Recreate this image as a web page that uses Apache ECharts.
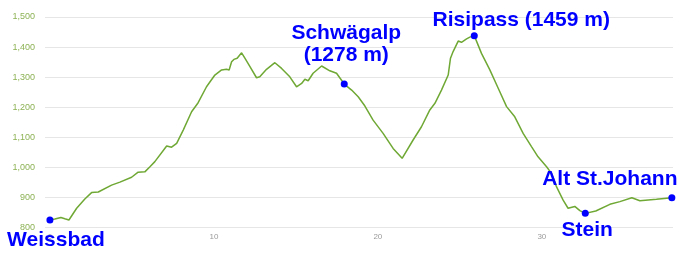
<!DOCTYPE html>
<html>
<head>
<meta charset="utf-8">
<script src="https://cdn.jsdelivr.net/npm/echarts@6/dist/echarts.min.js"></script>
<style>html,body{margin:0;padding:0;background:#fff}#c{width:683px;height:260px}</style>
</head>
<body>
<div id="c"></div>
<script>
// distance (km) and elevation (m) read from the profile
const distKm = [0,0.30,0.67,0.91,1.16,1.63,2.13,2.54,2.95,3.76,4.27,4.98,5.38,5.79,6.10,6.40,7.12,7.42,7.73,8.13,8.64,9.04,9.55,10.06,10.47,10.77,10.93,11.08,11.22,11.42,11.69,11.89,12.20,12.60,12.80,13.21,13.72,14.13,14.63,15.04,15.35,15.55,15.75,16.05,16.57,17.07,17.48,17.95,18.40,18.80,19.21,19.71,20.32,20.93,21.48,22.15,22.66,23.17,23.48,23.88,24.29,24.43,24.59,24.90,25.10,25.41,25.61,25.88,26.32,26.83,27.34,27.85,28.35,28.86,29.37,29.77,30.29,30.59,30.90,31.30,31.60,32.01,32.32,32.65,33.29,34.15,34.76,35.49,35.98,36.99,37.93];
const elevM = [825,828,833,829,825,864,895,916,918,941,951,967,984,985,1002,1019,1071,1067,1080,1124,1185,1215,1268,1307,1324,1326,1324,1351,1359,1363,1381,1363,1335,1298,1301,1326,1348,1329,1301,1268,1279,1293,1288,1313,1337,1321,1313,1277,1257,1235,1204,1157,1113,1063,1030,1091,1135,1191,1213,1257,1307,1363,1385,1420,1416,1427,1433,1438,1379,1324,1263,1202,1168,1113,1069,1035,1002,980,935,891,864,870,856,847,855,877,886,899,889,894,899];
// named places
const placeNames = ["Weissbad","Schwägalp\n(1278 m)","Risipass (1459 m)","Stein","Alt St.Johann"];
const placeKm = [0,17.95,25.88,32.65,37.93];
const placeElev = [825,1277,1438,847,899];
const xTickLabels = [0,10,20,30];
const yTicks = [800,900,1000,1100,1200,1300,1400,1500];

const labelOffsets = [[6,20],[2,-40],[47,-15],[2,17],[-62,-19]];

const chart = echarts.init(document.getElementById('c'), null, {renderer:'canvas'});
const lineData = distKm.map((d,i)=>[d, elevM[i]]);
const placeData = placeNames.map((n,i)=>({
  name:n, value:[placeKm[i], placeElev[i]],
  label:{offset:labelOffsets[i]}
}));
chart.setOption({
  animation:false,
  grid:{left:45,right:10,top:17,bottom:32.5},
  xAxis:{
    type:'value', min:-0.3, max:38,
    axisLine:{show:false}, axisTick:{show:false}, splitLine:{show:false},
    axisLabel:{customValues:xTickLabels, color:'#9a9a9a', fontSize:8, margin:5, fontFamily:'Arial, Liberation Sans'}
  },
  yAxis:{
    type:'value', min:yTicks[0], max:yTicks[yTicks.length-1], interval:100,
    axisLine:{show:false}, axisTick:{show:false},
    splitLine:{lineStyle:{color:'#e6e6e6', width:1}},
    axisLabel:{color:'#8db255', fontSize:9, margin:10, fontFamily:'Arial, Liberation Sans',
      formatter:v=>v.toLocaleString('en-US')}
  },
  series:[
    {type:'line', data:lineData, showSymbol:false, symbol:'none',
     lineStyle:{color:'#6fa834', width:1.5}, z:2},
    {type:'scatter', data:placeData, symbolSize:7,
     itemStyle:{color:'#0000ff', opacity:1}, z:3,
     emphasis:{disabled:true},
     label:{show:true, position:'inside', formatter:p=>p.name,
       color:'#0000ff', fontSize:21, fontWeight:'bold', fontFamily:'Liberation Sans, Arial',
       textBorderWidth:0, textBorderColor:'transparent',
       align:'center', verticalAlign:'middle', lineHeight:22}
    }
  ]
});
</script>
</body>
</html>
